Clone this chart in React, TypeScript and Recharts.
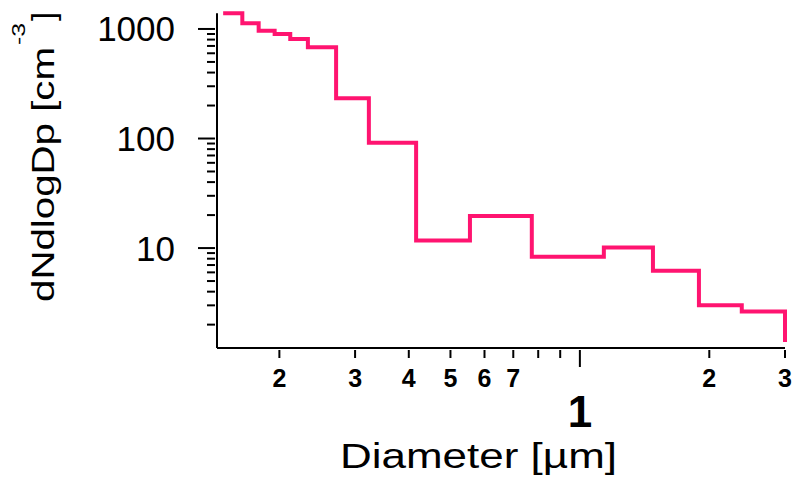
import React from "react";
import { LineChart, Line, XAxis, YAxis } from "recharts";

// bin lower edges in µm (last entry = upper edge of the last bin)
const binEdges = [0.148, 0.164, 0.179, 0.195, 0.212, 0.233, 0.271, 0.323, 0.416, 0.555, 0.773, 1.137, 1.479, 1.892, 2.38, 3.0];
// dN/dlogDp per bin, cm^-3
const binValues = [1390, 1127, 965, 900, 811, 681, 233, 91.6, 11.7, 19.6, 8.34, 10.1, 6.21, 3.0, 2.64];
const endValue = 1.39;

const xTicks = [0.2, 0.3, 0.4, 0.5, 0.6, 0.7, 0.8, 0.9, 1, 2, 3];
const xTickLabels = ["2", "3", "4", "5", "6", "7", "", "", "1", "2", "3"];

const yTicks = [2, 3, 4, 5, 6, 7, 8, 9, 10, 20, 30, 40, 50, 60, 70, 80, 90, 100, 200, 300, 400, 500, 600, 700, 800, 900, 1000];
const yMajor = [10, 100, 1000];

const font = "'Liberation Sans', Arial, Helvetica, sans-serif";
const lineColor = "#FF1470";

const data: { d: number; n: number }[] = binEdges.map((d, i) => ({
    d: d,
    n: i < binValues.length ? binValues[i] : binValues[binValues.length - 1],
}));
data.push({ d: binEdges[binEdges.length - 1], n: endValue });

const XTick = (props: any) => {
    const { x, y, index } = props;
    const label = xTickLabels[index];
    const major = xTicks[index] === 1;
    return (
        <g>
            <line x1={x} y1={y} x2={x} y2={y + (major ? 17 : 8)} stroke="#000" strokeWidth={2} />
            {label !== "" && (
                <text
                    x={x}
                    y={y + (major ? 77 : 37)}
                    textAnchor="middle"
                    fontSize={major ? 44 : 25}
                    fontWeight="bold"
                    fontFamily={font}
                    fill="#000"
                >
                    {label}
                </text>
            )}
        </g>
    );
};

const YTick = (props: any) => {
    const { x, y, payload } = props;
    const major = yMajor.indexOf(payload.value) >= 0;
    return (
        <g>
            <line x1={x} y1={y} x2={x - (major ? 17 : 8)} y2={y} stroke="#000" strokeWidth={2} />
            {major && (
                <text x={x - 40} y={y + 12.5} textAnchor="end" fontSize={35} fontFamily={font} fill="#000">
                    {payload.value}
                </text>
            )}
        </g>
    );
};

export default function App() {
    return (
        <div style={{ position: "absolute", left: 0, top: 0, width: 806, height: 491, background: "#fff" }}>
            <LineChart width={806} height={491} data={data} margin={{ top: 13.3, right: 21, bottom: 0, left: 0 }}>
                <XAxis
                    dataKey="d"
                    type="number"
                    scale="log"
                    domain={[0.1432, 3]}
                    ticks={xTicks}
                    interval={0}
                    tickSize={0}
                    tickLine={false}
                    tick={<XTick />}
                    axisLine={{ stroke: "#000", strokeWidth: 2 }}
                    height={143}
                />
                <YAxis
                    dataKey="n"
                    type="number"
                    scale="log"
                    domain={[1.224, 1390]}
                    ticks={yTicks}
                    interval={0}
                    tickSize={0}
                    tickLine={false}
                    tick={<YTick />}
                    axisLine={{ stroke: "#000", strokeWidth: 2 }}
                    width={217}
                />
                <Line
                    type="stepAfter"
                    dataKey="n"
                    stroke={lineColor}
                    strokeWidth={4}
                    dot={false}
                    activeDot={false}
                    isAnimationActive={false}
                />
            </LineChart>
            <svg width={806} height={491} style={{ position: "absolute", left: 0, top: 0, pointerEvents: "none" }}>
                <text x={340} y={468} fontSize={35} fontFamily={font} textLength={277} lengthAdjust="spacingAndGlyphs">
                    Diameter [µm]
                </text>
                <g transform="rotate(-90)" fontFamily={font}>
                    <text x={-302} y={54} fontSize={32} textLength={255} lengthAdjust="spacingAndGlyphs">
                        dNdlogDp [cm
                    </text>
                    <text x={-45} y={25} fontSize={19} textLength={22} lengthAdjust="spacingAndGlyphs">
                        -3
                    </text>
                    <text x={-21} y={54} fontSize={32} textLength={9} lengthAdjust="spacingAndGlyphs">
                        ]
                    </text>
                </g>
            </svg>
        </div>
    );
}
